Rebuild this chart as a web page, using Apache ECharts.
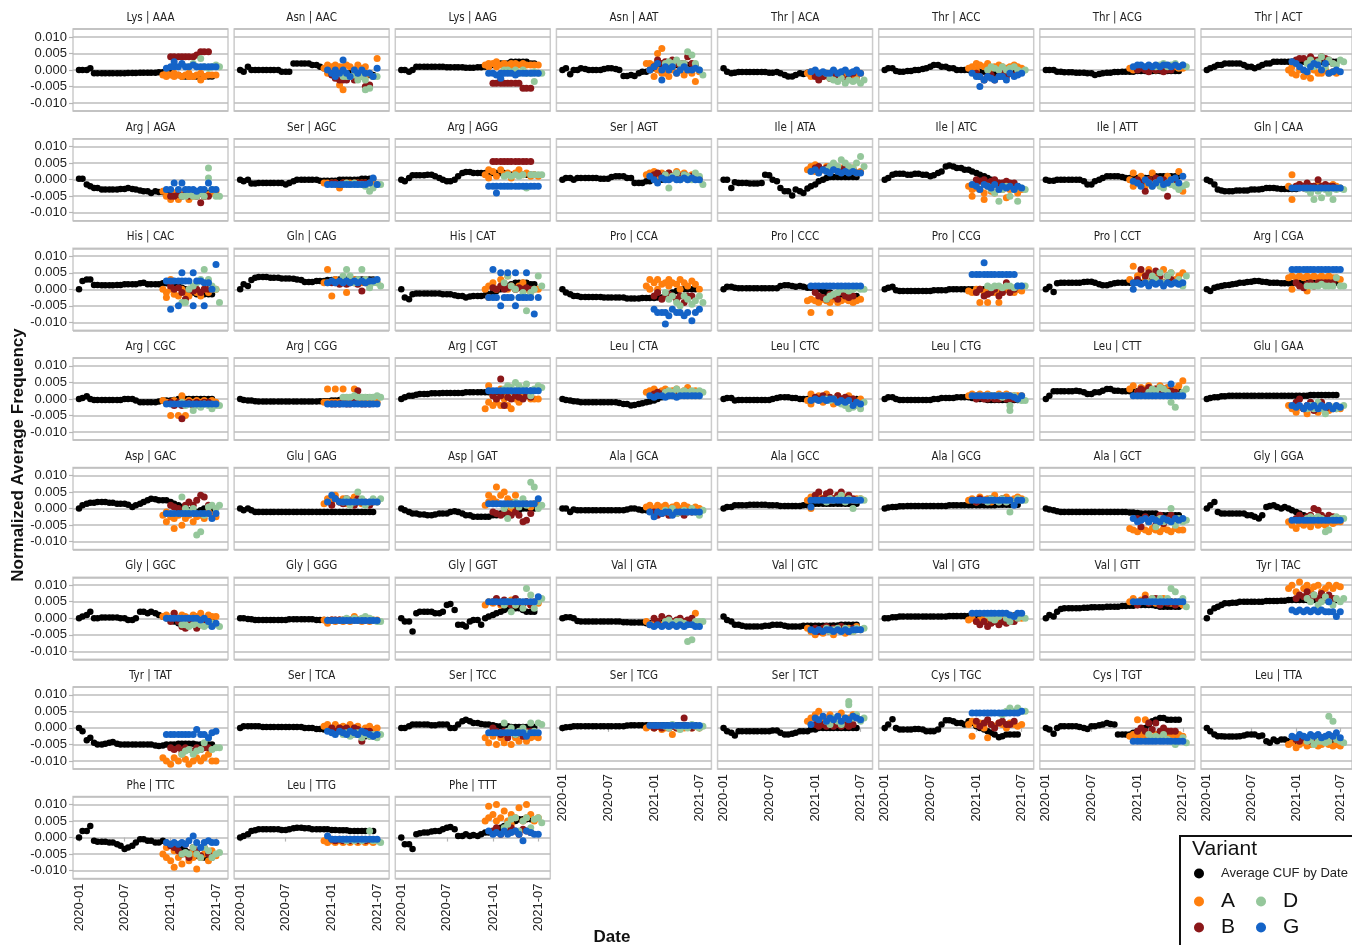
<!DOCTYPE html>
<html><head><meta charset="utf-8">
<script src="https://cdn.jsdelivr.net/npm/echarts@6/dist/echarts.min.js"></script>
<style>html,body{margin:0;padding:0;background:#fff}#chart{width:1352px;height:945px}</style>
</head><body><div id="chart"></div>
<script>
// ---------- DATA (values in thousandths of normalized frequency) ----------
const codons = ['AAA','AAC','AAG','AAT','ACA','ACC','ACG','ACT','AGA','AGC','AGG','AGT','ATA','ATC','ATT','CAA',
'CAC','CAG','CAT','CCA','CCC','CCG','CCT','CGA','CGC','CGG','CGT','CTA','CTC','CTG','CTT','GAA',
'GAC','GAG','GAT','GCA','GCC','GCG','GCT','GGA','GGC','GGG','GGT','GTA','GTC','GTG','GTT','TAC',
'TAT','TCA','TCC','TCG','TCT','TGC','TGT','TTA','TTC','TTG','TTT'];
const aminoAcids = ['Lys','Asn','Lys','Asn','Thr','Thr','Thr','Thr','Arg','Ser','Arg','Ser','Ile','Ile','Ile','Gln',
'His','Gln','His','Pro','Pro','Pro','Pro','Arg','Arg','Arg','Arg','Leu','Leu','Leu','Leu','Glu',
'Asp','Glu','Asp','Ala','Ala','Ala','Ala','Gly','Gly','Gly','Gly','Val','Val','Val','Val','Tyr',
'Tyr','Ser','Ser','Ser','Ser','Cys','Cys','Leu','Phe','Leu','Phe'];
const avgDates = ['2020-01-01','2020-01-15','2020-02-01','2020-02-15','2020-03-01','2020-03-15','2020-04-01','2020-04-15',
'2020-05-01','2020-05-15','2020-06-01','2020-06-15','2020-07-01','2020-07-15','2020-08-01','2020-08-15','2020-09-01','2020-09-15',
'2020-10-01','2020-10-15','2020-11-01','2020-11-15','2020-12-01','2020-12-15','2021-01-01','2021-01-15','2021-02-01','2021-02-15',
'2021-03-01','2021-03-15','2021-04-01','2021-04-15','2021-05-01','2021-05-15','2021-06-01','2021-06-15'];
const variantDates = ['2020-12-01','2020-12-15','2021-01-01','2021-01-15','2021-02-01','2021-02-15','2021-03-01','2021-03-15',
'2021-04-01','2021-04-15','2021-05-01','2021-05-15','2021-06-01','2021-06-15','2021-07-01','2021-07-15'];
// first variantDates index used by each variant's list
const variantStart = {A:0, B:2, D:5, G:1};
const xTickLabels = ['2020-01','2020-07','2021-01','2021-07'];
const yTickLabels = ['-0.010','-0.005','0.000','0.005','0.010'];

const avgCUF = [
[0,0,0,0.5,-1,-1,-1,-1,-1,-1,-1,-1,-1,-0.9,-0.9,-0.9,-0.8,-0.8,-0.8,-0.8,-0.8,-0.7,-0.7,-1,-1,-1.5,-1.5,-2,-2,-2,-2,-2,-2,-2,-2,-2],
[0,-0.5,1,0,0,0,0,0,0,0,0,-0.5,-0.5,-0.5,2,2,2,2,2,1.5,1.5,1,0.5,0,0,-0.5,-0.5,-1,-1,-1,-1.5,-1.5,-1.5,-1.5,-1.5,-1.5],
[0,0,-0.5,0,1,1,1,1,1,1,1,1,0.8,0.8,0.8,0.8,0.8,0.7,0.7,0.7,0.8,0.8,1,1,1.5,1.5,2,2,2,2.5,2.5,2.5,2.5,2.5,2,2],
[0,0.5,-1.3,0,0,0.5,0.3,0,0,0,0,0.3,0.5,0.5,0.3,0,-1.8,-1.8,-1.5,-1.8,-1,-0.5,-0.5,0,0.5,1,1,1,1.5,1.5,1.5,1.5,1.5,1.5,1.5,1.5],
[0.5,-0.5,-1,-0.8,-0.6,-0.6,-0.6,-0.6,-0.6,-0.6,-0.6,-0.6,-0.8,-0.8,-0.6,-1,-1.5,-2,-2,-1.5,-1,-1.2,-0.8,-1,-1,-1,-1,-1.5,-1.5,-2,-2,-2,-2,-2,-2,-2],
[0,0.5,0.5,-0.3,-0.5,-0.5,-0.3,-0.3,0,0,0.3,0.5,1,1.5,1.5,1,1,0.5,0.5,0,0,0,0,0,0,-0.5,-0.5,-0.5,-1,-1,-1,-1,-1,-1,-1,-1],
[0,0,0,-0.5,-0.5,-0.7,-0.7,-0.7,-0.8,-0.8,-0.8,-1,-1,-1.5,-1.2,-1,-0.8,-0.8,-0.6,-0.6,-0.5,-0.5,-0.5,-0.5,-0.3,-0.3,-0.3,-0.3,-0.3,-0.3,-0.3,-0.3,-0.3,-0.3,-0.3,-0.3],
[0,0.5,1,1.5,1.5,2,2,2,2,2,1.5,1,1,0.5,1,1.5,2,2,2.5,2.5,2.5,2.5,2.5,2.5,2.5,2.5,2.5,2.5,2.5,2.5,2.5,2.5,2.5,2.5,2.5,2.5],
[0.3,0.3,-1.5,-2,-2.5,-2.5,-3,-3,-3,-3,-3,-2.8,-2.8,-2.5,-2.8,-3,-3.3,-3.5,-3.5,-4,-3.5,-3.7,-3.7,-3.7,-4,-4,-4,-4,-4,-4,-4,-4,-4,-4,-4,-4],
[0,-0.5,0,-1.2,-1.2,-1,-1,-1,-1,-1,-1,-1,-1.5,-1,-0.5,0,0,0,0,0,0,-0.3,-0.3,-0.3,-0.3,-0.3,0,0,0,0,0,0,0.3,0.3,0.3,0.3],
[0,-0.5,0.5,1.3,1.3,1.3,1.3,1.5,1.5,1,0.5,0,-0.5,-0.5,0,1,2,2.3,2.3,2,2,2,2,2,2,2,2,2,1.5,1.5,1.5,1.5,1.5,1.5,1.5,1.5],
[0,0.5,0.5,0,0.5,0.5,0.5,0.5,0.5,0.5,0.3,0.3,0.3,0.8,1,1,1,0.5,0.5,-1,-1,-1,-0.5,-0.5,0,0,0,0,0.5,0.5,0.5,0.5,0.5,0.5,0.5,0.5],
[0,0,-2.5,-0.8,-1,-1,-1,-1.2,-1.2,-1.2,-1,1.5,1.3,0,-0.5,-2.5,-3.5,-3.5,-4.8,-3,-3.5,-4,-2.7,-2,-1.5,-0.5,0,0.5,0.8,0.8,0.8,0.8,0.8,0.8,0.8,0.8],
[0,0.5,1.5,1.8,1.8,1.8,1.5,1.5,1.8,1.8,1.5,1.5,1,1.3,2,2.5,4,4.3,4,3.5,3.5,3,3,2.5,2,1.5,1,0.5,0,-0.5,-1,-1.5,-2,-2,-2,-2],
[0,-0.3,-0.3,0,0,0,0,0,0,0,-0.5,-1.5,-1.5,-0.5,0,0.5,1,1,1,1,0.8,0.5,0.5,0.5,0.5,0.5,0.5,0.5,0.5,1,1,1,1,1,1,1],
[0,-0.5,-1.5,-3,-3.3,-3.5,-3.5,-3.5,-3.3,-3.3,-3.3,-3.3,-3,-3,-3,-2.8,-2.5,-2.5,-2.5,-2.7,-2.8,-2.8,-2.8,-2.8,-2.8,-2.5,-2.5,-2.5,-2.5,-2.5,-2.5,-2.5,-2.5,-2.5,-2.5,-2.5],
[0,2.5,3,3,1.3,1.3,1.2,1.2,1.2,1.2,1.3,1.3,1.5,1.5,1.5,1.5,1.8,2,1.5,1.5,1.5,1.5,1.8,1.8,1.5,1.5,1,0.5,0,-0.5,-1,-1.5,-1.5,-1.5,-1.5,-1.5],
[0,1.5,1,2.8,3.5,3.7,3.7,3.7,3.5,3.5,3.5,3.3,3.3,3.3,3.2,3,2.8,2.2,2.2,2.2,2.5,2.5,2.5,2.8,2.8,3,3,3,3,3,3,3,3,3,3,3],
[0,-2.5,-3,-1.5,-1.3,-1.3,-1.3,-1.3,-1.3,-1.3,-1.3,-1.5,-1.5,-1.5,-1.8,-2,-2,-2.5,-2.2,-2,-2,-2,-1.8,-1.5,-1,-0.5,0,0.5,1,1.5,2,2,2,2,1.5,1.5],
[0,-1,-1.5,-2,-2,-2.3,-2.3,-2.3,-2.3,-2.3,-2.3,-2.5,-2.5,-2.5,-2.5,-2.5,-2.5,-2.8,-2.8,-2.8,-2.8,-2.6,-2.6,-2.6,-2.6,-2.5,-2.5,-2,-1.5,-1,-0.5,0,0,0,0,0],
[0,0.8,0.8,0.5,0.3,0.3,0.3,0.3,0.3,0.3,0.3,0.3,0.3,0.3,0.3,1,1.2,1.2,1,0.8,1,0.8,0.5,0.5,0,0,-0.5,-1,-1,-1.5,-1.5,-2,-2,-2,-2,-2],
[0,0.5,0.8,-0.3,-0.5,-0.5,-0.5,-0.5,-0.5,-0.5,-0.5,-0.5,-0.5,-0.3,-0.3,-0.3,-0.3,0,0,0,0,0,0,0,0,0,0,0,0,0,0,0,0,0,0,0],
[0,0.8,-0.8,1.8,2,2,2,2,2,2,2.2,2.3,2.3,2,1.5,1.2,1.2,1.5,1.8,2,2,2,2,2,2,2,2,2,2,2,2,2,2,2,2,2],
[0,-0.5,0.5,0.8,1,1.2,1.3,1.5,1.7,2,2,2.2,2.3,2.5,2.5,2.3,2.2,2,2,2,1.8,1.8,1.8,1.8,1.8,2,2,2,2,2,2,2,2,2,2,2],
[0,0.3,0.8,0,-0.3,-0.3,-0.3,-0.3,-0.3,-0.3,-0.3,-0.3,0,0,0,-0.5,-1,-1,-1,-1,-1,-0.8,-0.5,-0.5,-0.5,-0.3,0,0,0,0,0,0,0,0,0,0],
[0,-0.3,-0.5,-0.5,-0.7,-0.8,-0.8,-0.8,-0.8,-0.8,-0.8,-0.8,-0.8,-0.8,-0.8,-0.8,-0.8,-0.8,-0.8,-0.8,-0.8,-0.7,-0.7,-0.7,-0.5,-0.5,-0.3,0,0,0,0.3,0.5,0.5,0.5,0.5,0.5],
[0,0.5,1,1,1.3,1.5,1.5,1.5,1.7,1.7,1.7,1.8,1.8,1.8,1.8,1.8,1.8,2,2,2,2,2,2,2,2,2.2,2.2,2.2,2.3,2.3,2.3,2.5,2.5,2.5,2.5,2.5],
[0,-0.3,-0.5,-0.7,-0.8,-1,-1,-1,-1,-1,-1,-1,-1,-1,-1,-1.2,-1.5,-1.5,-2,-1.8,-1.5,-1.3,-1,-0.8,-0.5,0,0.5,1,1.5,1.5,1.5,1.5,1.5,1.5,1.5,1.5],
[0,0.3,0.3,-0.5,-0.3,-0.3,-0.3,-0.3,-0.3,-0.3,-0.3,-0.3,-0.3,0,0.3,0.5,0.5,0.5,0.3,0.3,0,0,0,0,0,0,0,0,0,0,0,0,0,0,0,0],
[0,0.5,0.5,0,-0.3,-0.3,-0.3,-0.3,-0.3,-0.3,-0.3,-0.3,-0.3,0,0,0.3,0.3,0.3,0.3,0.5,0.5,0.5,0.5,0.3,0,0,0,-0.3,-0.3,-0.3,-0.3,-0.3,-0.3,-0.3,-0.3,-0.3],
[0,1,2.3,2.3,2.3,2.3,2.3,2.3,2.5,2.3,2,1.5,1.5,2,2,2.5,3,3,2.5,2.5,2.3,2.3,2.3,2.3,2.3,2.3,2.3,2.3,2.3,2.3,2.3,2.3,2.3,2.3,2.3,2.3],
[0,0.3,0.5,0.5,0.8,0.8,1,1,1,1,1,1,1,1,1,1,1,1,1,1,1,1,1,1,1,1,1,1,1.2,1.2,1.2,1.2,1.2,1.2,1.2,1.2],
[0,1,1.5,1.8,1.8,2,2,2,1.8,1.8,1.5,1.5,1.5,1.2,0.5,1,1.5,2,2.5,3,2.8,2.5,2.5,2.5,2,1.5,1,0.5,0,-0.5,-1,-1,-0.5,0,0,0],
[0,-0.5,0,-0.5,-1,-1,-1,-1,-1,-1,-1,-1,-1,-1,-1,-1,-1,-1,-1,-1,-1,-1,-1,-1,-1,-1,-1,-1,-1,-1,-1,-1,-1,-1,-1,-1],
[0,-0.5,-1,-1.5,-1.5,-1.8,-1.8,-2,-2,-1.8,-1.5,-1.5,-1.5,-1,-0.8,-1,-1.5,-2,-2,-2.5,-2.5,-2.5,-2.5,-2.5,-2,-2,-1.5,-1.5,-1,-1,-0.5,-0.5,0,0,0,0],
[0,0,-1,-0.3,-0.5,-0.5,-0.5,-0.5,-0.5,-0.5,-0.5,-0.5,-0.5,-0.5,-0.5,-0.5,-0.5,-0.3,0,0,-0.3,-0.5,-0.5,-0.5,-0.5,-0.5,-0.8,-0.8,-0.8,-1,-1,-1,-1,-1,-1,-1],
[0,0.5,0.5,1,1,1,1,1.2,1.2,1.2,1.2,1.2,1,1,1,0.8,0.8,0.8,0.8,0.8,0.8,1,1,1.2,1.5,1.5,1.5,1.5,1.5,1.5,1.5,1.5,1.5,1.5,1.5,1.5],
[0,0.3,0.5,0.5,0.7,0.7,0.8,0.8,0.8,0.8,0.8,0.8,0.8,0.8,0.8,0.8,0.8,1,1,1,1,1,1,1,1,1,1,1,1,1,1.2,1.2,1.2,1.2,1.2,1.2],
[0,-0.3,-0.5,-0.8,-1,-1,-1,-1,-1,-1,-1,-1,-1,-1,-1,-1,-1,-1,-1,-1,-1,-1,-1.2,-1.2,-1.3,-1.5,-1.5,-1.5,-1.5,-1.5,-2,-2,-2,-2,-2,-2],
[0,1,2,-1,-1.5,-1.5,-1.5,-1.5,-1.5,-1.5,-1.5,-2,-2,-2.5,-3,-2,0.5,0.8,1,0.5,0,0.5,0,-0.5,-1,-1.5,-2,-2.5,-2.5,-3,-3,-3,-3,-3,-3,-3],
[0,0.5,1,2,0,0,0.2,0.2,0.2,0.2,0.2,0,0,-0.5,-0.5,0,2,2,1.5,2,1.5,1,0.5,0,-0.5,-1,-1.5,-2,-2,-2,-1.5,-1.5,-1,-1,-1,-1],
[0,0,-0.2,-0.3,-0.5,-0.5,-0.5,-0.5,-0.5,-0.5,-0.5,-0.5,-0.5,-0.3,-0.3,-0.3,-0.3,-0.3,-0.3,-0.3,-0.5,-0.5,-0.5,-0.5,-0.5,-0.5,-0.5,-0.5,-0.5,-0.5,-0.5,-0.5,-0.5,-0.5,-0.5,-0.5],
[0,-1,-1,-4,1.5,2,2,2,2,1.5,1.5,2,4,4.3,2.5,-2,-2,-2.5,-1,-0.5,-0.5,-2,0,0.5,1,1.5,2,2.5,3,3,3,3,2.5,2,2,2],
[0,0.3,0.3,0,-0.8,-1,-1,-1,-1,-1,-1,-1,-1,-1,-1,-1,-1.2,-1.2,-1.3,-1.3,-1.3,-1.3,-1.5,-1.5,-1.5,-1.5,-1.5,-1.5,-1.5,-1.5,-1.5,-1.5,-1.5,-1.5,-1.5,-1.5],
[0.5,-0.5,-1,-2,-2,-2.3,-2.5,-2.5,-2.5,-2.5,-2.5,-2.3,-2.3,-2,-2,-2,-2.3,-2.5,-2.5,-2.5,-2.5,-2.3,-2.3,-2.3,-2.3,-2.3,-2.3,-2.3,-2.3,-2.2,-2.2,-2,-2,-2,-2,-2],
[0,0,0.3,0.3,0.5,0.5,0.5,0.5,0.5,0.5,0.5,0.5,0.5,0.5,0.5,0.5,0.5,0.7,0.7,0.7,0.7,0.7,0.7,0.7,0.8,0.8,0.8,0.8,0.8,0.8,0.8,0.8,0.8,0.8,0.8,0.8],
[0,1,0.5,2,2.8,3,3,3,3,3,3.2,3.2,3.3,3.3,3.3,3.3,3.5,3.5,3.5,3.5,3.7,3.7,3.8,3.8,4,4,4,4,4,3.8,3.5,3.5,3.5,3.5,3.5,3.5],
[0,2,3,3.5,4,4.5,4.5,4.7,4.7,5,5,5,5,5,5,5,5.2,5.2,5.2,5.2,5.3,5.3,5.5,5.5,5.5,5.5,5.5,5.5,5.5,5.5,5.5,5.5,5.5,5.5,5.5,5.5],
[0,-1,-3.7,-3,-4.5,-5,-5,-4.8,-4.5,-4.3,-4.8,-5,-5,-5,-5,-5,-5,-5,-5,-5,-5.3,-5.5,-5.3,-5,-5,-5,-4.8,-4.8,-4.8,-4.8,-4.8,-5,-5,-5,-5,-5],
[0,0.5,0.5,0.5,0.5,0.5,0.3,0.3,0.3,0.3,0.3,0.3,0.3,0.3,0.3,0.3,0.3,0,0,0,-0.3,-0.3,-0.5,-0.5,-0.5,-1,-1,-1,-1.5,-1.5,-2,-2,-2,-2.5,-2.5,-2.5],
[0,0,0.5,1,1,1,1,1,0.8,0.8,1,1,1,0,0,1,2,2.5,2,1.5,1.5,1.2,1,1,0.8,0.5,0.5,0.5,0.5,0.3,0.3,0.3,0.3,0.3,0.3,0.3],
[0,0.2,0.3,0.5,0.5,0.5,0.5,0.5,0.5,0.5,0.5,0.5,0.5,0.5,0.5,0.5,0.5,0.7,0.8,0.8,0.8,0.8,0.8,0.8,0.8,0.8,0.8,0.8,0.8,0.8,0.8,0.8,0.8,0.8,0.8,0.8],
[0,-1,-1.5,-2.3,-1,-1,-1,-1,-1,-1,-1,-1,-1,-0.8,-0.8,-1.5,-2,-2,-1.8,-1.5,-1,-1,-1,-0.5,-0.5,0,0,0,0,0,0,0,0,0,0,0],
[0,1,2.6,0,-0.5,-0.5,-0.5,-0.5,-0.3,-0.3,-0.5,-1,-1,-1,-0.5,1,2.3,2.3,2,1.5,1.5,1,2,1.5,0.5,0,-0.5,-1,-1.5,-2,-2.8,-2.5,-2,-2,-2,-2],
[0,-0.5,-1.8,0,0.5,0.5,0.5,0.5,0.5,0.3,0,-0.3,0.5,0.5,0.8,1,1.5,1.2,1,-2,-2,-2,-2,-1.5,-1,-0.5,0,1,2,2.5,3,3,2.5,2.5,2.5,2.5],
[0,-1,-2,-2.5,-2.5,-2.6,-2.6,-2.6,-2.6,-2.5,-2.3,-2,-2,-2,-2.5,-2.3,-4,-4.5,-3.5,-4,-3.5,-3.5,-4,-4,-4,-4,-4,-4,-4,-4,-4,-4,-4,-4,-4,-4],
[0,2,2,3.5,-1,-1.3,-1.3,-1.3,-1.5,-1.5,-2,-2.5,-3.5,-3,-2.5,-1.5,-0.5,-0.5,-1,-1,-1.5,-1.5,-1,-1.5,-2,-2.5,-3,-3.5,-4,-4.5,-5,-5.5,-6,-6,-6,-6],
[0,0.5,1,2,2.2,2.5,2.5,2.5,2.5,2.5,2.5,2.3,2.3,2.5,2.8,3,3,2.8,2.8,2.5,2.5,2.5,2.5,2.5,2.3,2.3,2.2,2.2,2.2,2,2,2,2,2,2,2],
[0,-2,-2,-3.5,1,1.3,1.5,1.5,1.8,2,2,2.5,3,3.2,2.5,0.5,0.5,1,0.5,0.8,0.5,1,1.5,1.5,2,2.5,3,3.5,4,4.5,5,5.5,5.5,5.5,5.5,5.5]
];

const variantA = [
[-1.5,[-1,-2],-1.5,[-1,-2],-1.5,-2,-1.5,[-1,-2],-2,-1.5,[-1,-3],-2,-1.5,-1.5,-1.5],
[0.5,[1.5,-1],1,[1.5,-1],[1,-4.5],[-6,1],[1.5,-2],1,[0,-1.5],1.5,0.5,[1,-2],-1,-2,3.5],
[1.5,[1,2],2,[1,2.5],1.5,2,1.5,[1,2],2,1.5,2,1.5,1.5,1.5,1.5],
[2,[0,2],[-2,1.5],[5,0],[6.5,-1],[2,-1],[1,-2],0,[2,-1],0,[1,-1.5],0,-1,-3.5,-0.5],
[-1,[-0.5,-2],-1.5,-1,-2,-1,-2.5,-1,-1.5,-1,-2,-1,-1.5,-2,-1],
[0.5,1,[0,2],1.5,1,2,0.5,1,1.5,1,0.5,1,1.5,1,0.5],
[0.5,0,0.5,1,0.5,1,0.5,0,1,0.5,1,0.5,1,0.5,0.5],
[0,[-1,1],-1.5,0,-2,-1,-2.5,0,-1,-1,0,-1,-0.5,-1],
[-3.5,-5,-6,-4,-6,-4,-3.5,-6,-5,-4,-3.5,-5,-4.5,-4,-3.5],
[-1,-1,-1,-1,-2.5,-1,-1,-1,-1,-1,-1,-1,-1,-1,-1.5],
[1.5,[3,0.5],2.5,1,3,1.5,2,0.5,2,3,1.5,2,1,1.5,1],
[1.5,2,2.5,1,2,1.5,2,1,2.5,1.5,2,1,1.5,1,0.5],
[3,4,[2.5,4.5],3.5,3,4,3,4.5,3,3.5,2.5,3,3.5,2,2.5],
[-2,[-3,-5],-2.5,-3,[-4,-6],-2,-3.5,-4,-2.5,-3,-5.5,-3,-2.5,-4,-3],
[0,[2,-2],-1,1,-2,0,2,-1,0,-1.5,1,0,-1,2.5,-3.5],
[-2,[1.5,-6],-2,-1.5,-2.5,-2,-3,-2,-1.5,-2,-2.5,-2,-1.5,-2,-2.5],
[0,[-1,-2.5],[3,0],-1.5,-2,0,-1,-2,0,-1,-2,0,-1,0,0],
[2,[6,2],-2,3,2,3,-1,2,3,2.5,2,3,2,2.5,2],
[0,[1,-2.5],2,0,3,1,[4,0],1,0,1,2,0,-1,0,0],
[1,[3,0],2,[3,0],1.5,2,[3,1],2,1.5,[3,0],2,1,2.5,1.5,0],
[-3.5,[-7,-3],-3.5,-4,-3,-3.5,[-7,-4],-3,-4,-3.5,-3,-3.5,-4,-3.5,-3],
[-0.5,-1,0,[-4,0],-1,[-4,0],-0.5,-1,[-4,0],-1,0,-0.5,-1,0,-0.5],
[3,[7,2],4,5,3,6,4,5,3,6,4,5,3,4,5],
[3.5,[4,0],3.5,4,3.5,[4,-0.5],3.5,4,3.5,4,3.5,4,3.5,3.5,3],
[-0.5,-1,[-5,-1],-0.5,[-5,-1],[1,-0.5],[-5,-1],-0.5,-1,-0.5,-1,-0.5,-1,-0.5,-1],
[-1,[3,-1],-1,[3,-1],-1,[3,-1],-1,-1,[3,-1],-1,-1,-1,-1,-1,-1],
[-3,[4,-1],[1,-2],-1,[3,-2],0,[1,-2],-3,0,-1,0.5,1,0,0,0],
[2,2.5,3,2,2.5,3,2,2.5,3,2,2.5,3.5,2,2.5,2],
[-0.5,[1.5,-1.5],0,1,-1,1.5,0,-1.5,1,0,-1,1,0,-1,0],
[1,1.5,1,1.5,1,1.5,1,1,1.5,1,1.5,1,1,1,1],
[3,4,2,3.5,3,4,2.5,3,4,3,3.5,2,3,4,5.5],
[-2,-3,-4,-2.5,-3,-4.5,-2,-3,-4,-2.5,-3,-3.5,-2.5,-3,-3],
[-2,[-4,-1],-2.5,[-6,-3],-2,[-5,-1],-3,-2,[-4,-1],-2.5,-2,-3,-1,-2,-2.5],
[1.5,3,2,4,2,3,1.5,2.5,3.5,2,1.5,2,1.5,2,2],
[1,[4,2],3,[6.5,2],4,[5,1],3,[2,0],4,1,2,1.5,0.5,1.5,1],
[0.5,1,0,1,0.5,1,0,0.5,1,0,1,0.5,0,0.5,0],
[2.5,[3.5,0],3,4,3,3.5,2.5,3,4,3,3.5,3,2.5,3,3],
[2.5,3,2,3.5,2.5,3,2,4,2.5,3,3.5,2.5,3,3.5,3],
[-6,-6.5,-7,-6,-6.5,-7,-6,-6.5,-7,-6,-6.5,-7,-6,-6.5,-6.5],
[-4,-5,-6,-4.5,-5,-4,-5.5,-4,-5,-4.5,-5,-4,-4.5,-4,-4],
[0.5,1,0,1.5,0,1,0.5,0,1,0.5,1.5,0,1,0.5,0.5],
[-0.5,-1.5,-0.5,-1,-0.5,-1,-0.5,-1,0.5,-0.5,-1,-0.5,-1,-0.5,-0.5],
[4,5,4.5,5.5,4,5,4.5,5.5,4,5,4.5,5,4,5,4.5],
[-1,-2,-1.5,-1,-2,-1.5,-1,-2,-1.5,-1,-2,-1.5,-1,1.5,-1.5],
[-3,-4,-5,-3.5,-4.5,-3,-4,-5,-3.5,-4,-4.5,-3,-4,-2.5,-3.5],
[-0.5,0,-1,-0.5,0,-1,-0.5,0,-1,-0.5,0,-1,-0.5,0,0],
[5,6,4.5,5.5,7,5,6,4.5,5.5,6,5,4.5,5,4.5,4],
[9,10,8,11,9,10,8.5,9.5,10,8,9,10,9,10,9.5],
[-9,-10,-11,-9,-10,-8,-9.5,-11,-10,-9,-10,-9,-8,-10,-10],
[0.5,1,-0.5,1,0,0.5,-0.5,1,0,0.5,-1,0,0.5,-0.5,0],
[-3,-4.5,-2.5,-5,-3,-4.5,-2.5,-5,-3,-4,-2.5,-4,-3,-2.5,-3],
[0,0.5,0,0.5,-0.5,0,0.5,-2,0,0.5,0,0.5,0,0.5,0],
[2,3,4,5,2,3,4,1.5,3,4.5,2,3,4,3,2.5],
[1,[2,-2.5],1,1.5,0,[2,-3],1,0.5,1.5,1,0,1.5,1,0.5,1],
[-2.5,-2,[2.5,-3],-2,[2.5,-2.5],-2,-3,-2,-2.5,-2,-3,-2,-2.5,-2,-2.5],
[-5,-4.5,-6,-5,-4.5,-5.5,-5,-4,-5.5,-5,-4.5,-5,-5.5,-5,-5.5],
[-5,[-6,-3],-7,[-9,-4],-6,[-8,-5],-5,-7,[-4,-6],-9.5,-6,-5,-7,-4,-5.5],
[-1,-1.5,-1,-1.5,-1,-1.5,-1,-1.5,-1,-1.5,-1,-1.5,-1,-1.5,-1],
[5,[9.5,6],7,[10,5],6,8,5,[7,4],6,9,5,[10,6],7,5,6]
];

const variantB = [
[4,4,4,4,4,4,4,4.5,5.5,5.5,5.5],
[-1.5,-2.5,-3,-3,-3,-2,-3,-2.5,-2,-5,-4.5],
[-4,-4,[-3,-4],-4,-4,-4,-4,-4,-5.5,-5.5,-5.5],
[1,3,2,2.5,2,3,2,2,2,4,2],
[-2,-3,-2,-1.5,-2.5,-2,-1.5,-2,-3,-2.5,-1],
[-1,-2,-3,-2,-1.5,-3,-2,-1,-2,-1,-1.5],
[0,0.5,0,-0.5,0.5,0,0,-0.5,0,0],
[3,3.5,3.5,2.5,4,3,3,4,3.5,3,2],
[-5,-5,-4.5,-5,-4.5,-5,-4,-5,-7,-5,-5],
[-1,-1,-1.5,-1,-1,-1.5,-1,-1,-1,-1],
[5.5,5.5,5.5,5.5,5.5,5.5,5.5,5.5,5.5,5.5,5.5],
[1.5,2,1,1.5,2,1,1.5,1,1.5,1,1],
[3.5,4,3,3.5,4,3,3.5,3,4,3.5,3],
[0,-0.5,0,-1,-0.5,0,-1,-1,-0.5,-1,-1],
[0,-1,-3.5,0,-1,0.5,-1,0,-5,-1,-0.5],
[-2,-1.5,-2,-1,-2,-2,0,-2,-1.5,-2,-2],
[1,0,0.5,-1,-3,0,-0.5,0,-1,0,0],
[2,2,1.5,2,1.5,2,2,1.5,-0.5,2,1.5],
[0.5,0,1,0,0.5,1,0,0.5,0,0.5,0],
[-2,-1,-3,-2,-1.5,-2,-3,-2,-4,-2,-2],
[-1,-2,-2.5,-3,-1.5,-2,-3,-1,-2,-2.5,-2],
[-1,0,-2,-1.5,-1,0,-2,-1,2,-1,0],
[3,6,4,5,3,5.5,4,2,4,3,2],
[2,1,0.5,1.5,2,1,2,2,2,2,2],
[-1,-2,-1,[-6,-2],-1.5,-1,-2,-1,-1.5,-1,-1],
[-1.5,-1.5,-1.5,-1,-1.5,-1.5,-1,2.5,-1.5,-1.5,-1.5],
[1,0,[6,1],-2,0.5,0,1,0.5,0,1,0.5],
[1.5,2,1.5,2,1.5,1.5,2,1.5,1.5,2,1.5],
[0.5,0,1,0,0.5,0,1,0,0.5,0,0],
[0,0.5,0,0,0.5,0,0,0.5,0,0,0],
[2,3,2.5,3.5,2,3,2,3,2,2.5,2],
[-1,0,-3,-2,-1,-3.5,-2,-1,-3,-2,-3],
[1,0.5,0,-1,1,2,1,2.5,4,3.5,1],
[1,3,2,1.5,3,2,1,3,2,1.5,1],
[-1,-1.5,-2,-1,-1.5,-2,-1,-2,-4,-3.5,-1.5],
[-1,-2,-1.5,-1,-2,-1,-1.5,-1,-2,-1,-1],
[4,5,3,4.5,5,3,4,5,3,4,3],
[2,3,2.5,2,3,2.5,2,3,2,2.5,2],
[-3,-5.5,-2.5,-4,-3,-5,-2,-4.5,-3,-2,-3],
[-3,-2,-3,-2.5,-2,0,-0.5,-2,-3,-2,-2.5],
[-1,1.5,-1,-2.5,-3,-2,-1.5,-3,-2,-1,-1],
[-0.5,-0.5,-0.5,-0.5,-0.5,-0.5,-0.5,-0.5,-0.5,-0.5,-0.5],
[5,6,4.5,5.5,5,4,6,5,4.5,5,4],
[0,-1,0.5,-0.5,0,-1,-0.5,0,-1,-0.5,0],
[-3,-4,-3,-2.5,-4,-3,-3.5,-2.5,-3,-4,-3],
[-1,-2,-1,-2.5,-1.5,-1,-2,-1,-1.5,-1,-1],
[4,5,6,4.5,5,6,4,5,4.5,5,4],
[6,7,6.5,8,6,7,6,7.5,6,7,6],
[-6,-6.5,-6,-7,-6,-6.5,-7,-6,-6.5,-6,-6],
[0,-1,0,-0.5,0,-1,0,-0.5,-4,-1,-1],
[0,-1,-2,-1,-3,-1,-2,-1,-2.5,-1,-1],
[0,0.5,0,0.5,0,0.5,0,0.5,3,0.5,0],
[1,0.5,1,0.5,1,0.5,1,0.5,1,0.5,1],
[2,0.5,1.5,2.5,1,0,1.5,2,1,1,2],
[-1,0,-1,1.5,-0.5,1.5,-1,0,-1,-1,-1],
[-3.5,-4,-3,-3.5,-4,-3,-3.5,-3,-4,-3.5,-3],
[-2.5,-3,-4,-5,-2,-6,-3,-4,-5.5,-3,-5],
[-0.5,-1,-0.5,-1,-0.5,-1,-0.5,-1,-0.5,-1,-0.5],
[2,3,1,2.5,1.5,3,2,1,2.5,2,1.5]
];

const variantD = [
[null,null,1,2,1,3.5,1,0.5,1,1.5,1],
[-2,-2,-2,-1.5,-3,-2,[-6,-3],-5.5,-2,-2],
[0,0,-0.5,0,-1,0,-1,-1,[-0.5,-3.5],-1,-1],
[2,2.5,2,3,2,2,5.5,4.5,2,0,-1.5],
[-1,-2.5,-3,-3.5,-2.5,-4,-3,-3.5,-3,-4,-3],
[0,1,0.5,0,1,0,0.5,1,0,-0.5,0],
[null,null,1,1.5,2,1,1.5,2,1,1.5,1],
[2,3,1,2.5,4,1,3,2,1.5,3,2.5],
[-5,-5,-4.5,-5,-5,-4,-5,[3.5,0.5],-3,-5,-5],
[null,-1,-1.5,-1,-1.5,-1.5,-2,-3.5,-2.5,-1.5,-1.5],
[1,1.5,1,1.5,1,1.5,-2.5,1.5,1.5,1.5,1.5],
[1.5,-2.5,1,2,0,1.5,1,0,2,1,-1.5],
[3,4,5,4,6,5,4,3.5,5,7,4],
[-2,-3,-4,-6.5,-3,-2,-5,-3,-6.5,-2.5,-3],
[-1,-2,-1,-2,-2.5,-1,-1.5,-2,-3,-2,-1.5],
[-3,-4,-6,-3.5,-5.5,-3,-4,-6,-3,-2.5,-3],
[-4,-4,0,1,2,3,6,3,1,0,-4],
[4,6,4,2,3,6,3,0.5,2,2,1],
[2,4,1,0,-2.5,-1,-6.5,-1,0,4,1],
[-1,-3,-2,-4,-5,-2,-3,-4.5,-3.5,-2,-4],
[-3,-2,-1.5,-1,0,0,-0.5,0,0.5,0,0],
[1,0.5,1,1,0.5,1,1,0.5,1,1,1],
[2,4,3,5,2,4,5,2,3,1,4],
[1,1,1,1,1.5,1,1,1,3.5,1,1],
[-1,-2,-1.5,-3.5,-2,-2.5,-1.5,-2,-3,-2,-2],
[0.5,0.5,0.5,1,0.5,0.5,0.5,0.5,0.5,1,0.5],
[3,4,3.5,5,4,3,4.5,1,3,4,3.5],
[2,2.5,2,3,2,2.5,2,2.5,2,2.5,2],
[0,-0.5,0,-1,-1.5,-2,-3,-2.5,-2,-3,-1],
[1,1,1,1,0.5,1,[-3.5,-2],1,0,-0.5,-0.5],
[2,3,2.5,3.5,3,2,-1,-2.5,1,2,3],
[-3,-2,-3,-1,-3,-4.5,-2,-2.5,-3,-2.5,-2],
[3.5,0,-1,0,-8,-7,-2,0.5,1,0,1],
[2,3,1,2,5,3,1,2,3,2,3],
[0,-3,1,2,0.5,3,1,8,6.5,0,1],
[-0.5,-1,0,-1.5,-1,-0.5,-1,0,-1,-2,-0.5],
[2,3,2.5,3,4,2,3,0,2.5,3,2.5],
[2,3,2.5,2,3,2,[2.5,-1],2,3,2.5,2.5],
[-4,-3,-5.5,-3,-4,-3.5,0,-5,-3,-4,-3.5],
[-3,-2.5,-3,-2.5,-3,-7,-6.5,-3,-2.5,-3,-3],
[-2,-2,-2.5,-2,-1.5,-2,-2.5,-2,-1.5,-2,-2.5],
[-0.5,0,-0.5,0,-0.5,0,0.5,0,-0.5,-1,-1],
[4,5,2,4,5,3,9,7,3,5,6],
[-1,-0.5,-1.5,-1,-1,-1.5,-7,-6.5,-1,-1,-1],
[-3,-4,-3.5,-3,-4,-3,-3.5,-4,-3,-3.5,-3],
[1,0,-0.5,0.5,1.5,0,-1,0.5,0,0.5,0],
[5,6,5,6,5,6,9,8,5,6,3.5],
[6,5,7,4,5,6.5,5,4,6,5,6],
[-8,-7,-6.5,-8,-7,-6.5,-4.5,-3,-6.5,-6,-6],
[-2,-1.5,-2.5,-2,-1.5,-3,-2,-2.5,-2,-3,-2],
[1.5,-1,0,-2,-1,0,-1.5,1.5,-1,1.5,1],
[0.5,0,1,0.5,-0.5,0.5,0,1,0.5,0,0.5],
[2,1,3,2,1,3,[8,7],3,4,2,3],
[null,null,null,null,4,5,6,5,6,5,5],
[-2,-3,-2.5,-3,-2,-3.5,-4,-5,-4,-3,-4.5],
[-4,-3.5,-5,-4,-4,-4.5,[3.5,-4],2,-3.5,-4,-4.5],
[-5,-4.5,-5,-3,-5,-6,-3,-4,-6,-5,-4.5],
[-0.5,-1,-0.5,-1,-0.5,-1,-0.5,2,-1,-1,-1.5],
[3,4,5.5,6,2,5,6,3,5.5,6,4.5]
];

const variantG = [
[0.5,1,[1,2.5],1,2,1,1,1.5,1,1,1,1,1,1],
[0,-1,[-2,0],-1,[0,3],-1,-2,0,-1,0,-1,-1,-2,0.5],
[-1,-1,-1.5,[-1,-2.5],-1,-1,-1,-1.5,-1,-1,-1,-1,-1,-1],
[0,1,2,[0,-3],1,0,1,-1,0,1,0,0,0.5,0],
[-0.5,0,-1,-0.5,-1,-1,0,-1,-0.5,0,-1,-0.5,0,-1],
[-1,-2,[-2,-5],-3,-2,-2.5,-3,-2,-2,-3,-1,-2,-1.5,-1],
[1,1.5,1.5,1,1.5,1,1.5,1,1.5,1.5,1,1.5,1,1.5],
[2.5,2,1,0,-0.5,1,2,1.5,0,2,-1,-0.5,0,-0.5],
[-3,-3,-1,-3,-1,-3,-3,-3,-3.5,-3,-3,-1,-3,-3],
[-1.5,-1.5,-1.5,-1.5,-1.5,-1.5,-1.5,-1.5,-1.5,-1.5,-1.5,-1,0.5,-1.5],
[-2,-2,[-2,-4],-2,-2,-2,-2,-2,-2,-2,-2,-2,-2,-2],
[1,0,-1,0.5,0,0,0.5,0,0,0.5,0,0.5,0,0],
[2.5,3,2,3,2.5,2,3,2.5,2,2.5,2,2.5,2,2],
[-1.5,-2,-3,-1.5,-2,-2.5,-1.5,-3,-2,-2.5,-2,-3,-2,-2.5],
[-0.5,-1,-2,0,-1,-2,-1,0,-1.5,-1,0,0.5,-1,1],
[-2.5,-2.5,-2.5,-2.5,-2.5,-2.5,-2.5,-2.5,-2.5,-2.5,-2.5,-2.5,-2.5,-2.5],
[2.5,[-6,2.5],2.5,[-5,2.5],[5,2.5],2.5,2.5,[-5,5],2.5,2.5,[-5,2],2,0,7.5],
[2,2.5,2,2.5,2,2.5,2,2.5,2,2.5,2,2.5,2.5,3],
[-2.5,[6,-2.5],-2.5,[5,-5],-2.5,[5,-2.5],-2.5,[5,-5],-2.5,-2.5,[5,-2.5],-2.5,-7.5,-2.5],
[null,-6,-7,-7,[-10.5,-7],-8,-6,-7,-7,-8,-7,-9.5,-7,-6],
[1,1,1,1,1,1,1,1,1,1,1,1,1,1],
[4.5,4.5,4.5,[8,4.5],4.5,4.5,4.5,4.5,4.5,4.5,4.5,4.5,1,1],
[[0,2],2,1.5,2,1,2,1.5,2,1,2,1.5,2,1.5,2],
[6,6,6,6,6,6,6,6,6,6,6,6,6,6],
[-1.5,-1.5,-1.5,-1.5,-1.5,-1.5,-1.5,-1.5,-1.5,-1.5,-1.5,-1.5,-1.5,-1.5],
[-1.5,-1.5,-1.5,-1.5,-1.5,-1.5,-1.5,-1.5,-1.5,-1.5,-1.5,-1.5,-1.5,-1.5],
[2.5,2.5,2.5,2.5,2.5,2.5,2.5,2.5,2.5,2.5,2.5,2.5,2.5,2.5],
[1,0.5,1,1,0.5,1,1,0.5,1,1,1,1,1,1],
[-0.5,0,-0.5,0,-0.5,0,0,-1,-0.5,-1,-0.5,-2,-1,-1.5],
[1,1,1,1,1,1,1,1,1,1,1,0.5,0,1],
[1,1,1,1,1,1,1,1,1,1,[4.5,1],1,1,1],
[-2,-2.5,-2,-3,-2,-2.5,-2,-3,-2,-2.5,-2,-3,-2,-2.5],
[-1.5,-1.5,-1.5,-1.5,-1.5,-1.5,-1.5,-1.5,-1.5,-1.5,-1.5,-1.5,-3,-1.5],
[2,4,3,2,2,2,2,2,2,2,2,2,2,2],
[1.5,1.5,1.5,1.5,1.5,1.5,1.5,1.5,1.5,1.5,1.5,1.5,1.5,3],
[-1,-2.5,-1,-1.5,-1,-1,-2,-1,-1,-1,-1,-1,-1,-1],
[[0.5,2.5],2.5,2.5,2.5,2.5,2.5,2.5,2.5,2.5,2.5,2.5,2.5,2.5,2.5],
[2.5,2.5,2.5,2.5,2.5,2.5,2.5,2.5,2.5,2.5,2.5,1,2.5,2.5],
[-3,-4,-3.5,-3,-4,-3,-3.5,-4,-3,-3.5,-4,-3,-3.5,-3],
[-3.5,-3.5,-3.5,-3.5,-3.5,-3.5,-3.5,-3.5,-3.5,-3.5,-3.5,-3.5,-3.5,-3.5],
[0,0,0,0,0,0,0,0,0,-0.5,0,-1,-2.5,-1.5],
[-0.7,-0.7,-0.7,-0.7,-0.7,-0.7,-0.7,-0.7,-0.7,-0.7,-0.7,-0.7,-0.7,-0.7],
[5,5,5,5,5,5,5,5,5,5,5,5,5,6.5],
[-2,-2.5,-2,-2.5,-2,-2.5,-2,-2.5,-2,-2.5,-2,-2,-2.5,-2.5],
[-3.5,-4,-3.5,-4,-3.5,-3.5,-4,-3.5,-4,-3.5,-4,-3.5,-3.5,-3.5],
[1.5,1.5,1.5,1.5,1.5,1.5,1.5,1.5,1.5,1.5,1,0.5,1.5,1.5],
[5,5,5,5,5,5,5,5,5,5,5,5,5,5],
[2.5,2,2.5,2,2.5,2,2.5,2,2.5,2,[5,2],2,0.5,2],
[-2,-2,-2,-2,-2,-2,-2,-2,-0.5,-2,-2,-3,-1.5,-1],
[-1,-1.5,-2,-1,-1.5,-2,-1,-1.5,-2,-1,-1.5,-2,-2.5,-2],
[-1.5,-1.5,-1.5,-1.5,-1.5,-1.5,-1.5,-1.5,-1.5,-1.5,-2.5,-1.5,-1.5,-1.5],
[0.7,0.7,0.7,0.7,0.7,0.7,0.7,0.7,0.7,0.7,0.7,0.7,0.7,0.7],
[1,3,2.5,3.5,2,3,2.5,3.5,2,3,2.5,3.5,3,2.5],
[4.5,4.5,4.5,4.5,4.5,4.5,4.5,4.5,4.5,4.5,4.5,4.5,4.5,5],
[-4,-4,-4,-4,-4,-4,-4,-4,-4,-4,-4,-4,-4,-4],
[-2.5,-3,-2,-2.5,-3,-2,-2.5,-2,-3,-2.5,-2,-2.5,-1.5,-3],
[-1.5,-2,-1.5,-2,-1.5,-2,-1,0.5,-1.5,-3,-1.5,-1,-1.5,-1.5],
[0.5,-0.5,-0.5,-0.5,-0.5,-0.5,-0.5,-0.5,-0.5,-0.5,-0.5,-0.5,-0.5,-0.5],
[2,1,1.5,1,2,1,1.5,2,1,-1,2,1.5,1,1]
];

// ---------- RENDERING ----------
const FONT = "'Liberation Sans', Arial, Helvetica, sans-serif";
const TITLE_FONT = "'Liberation Sans Narrow', 'DejaVu Sans Condensed', 'Liberation Sans', Arial, sans-serif";
const COLORS = {avg:'#000000', A:'#ff7f0e', B:'#8b1719', D:'#95c79b', G:'#1463c7'};
const SERIES_NAMES = {avg:'Average CUF by Date', A:'A', B:'B', D:'D', G:'G'};

function toTs(s){ const p=s.split('-').map(Number); return Date.UTC(p[0],p[1]-1,p[2]||1); }
const xTickValues = xTickLabels.map(s => toTs(s + '-01'));
const X_MIN = toTs('2019-12-08'), X_MAX = toTs('2021-08-18');
function fmtDate(v){ const d=new Date(v); return d.getUTCFullYear()+'-'+String(d.getUTCMonth()+1).padStart(2,'0'); }

function pointsFrom(list, dates, start){
  const out=[];
  (list||[]).forEach((v,i)=>{
    const d = dates[start+i];
    if (!d || v===null || v===undefined) return;
    (Array.isArray(v)?v:[v]).forEach(x=>out.push([toTs(d), x/1000]));
  });
  return out;
}

const legendCommon = {icon:'circle', itemWidth:10, itemHeight:10, selectedMode:false, orient:'horizontal'};
const option = {
  animation:false, backgroundColor:'#ffffff', textStyle:{fontFamily:FONT},
  grid:[], xAxis:[], yAxis:[], series:[], graphic:[],
  legend:[
    Object.assign({data:['Average CUF by Date'], left:1189, top:862,
     textStyle:{fontSize:13, color:'#222', fontFamily:FONT, padding:[0,0,0,12]}}, legendCommon),
    Object.assign({data:['A','D'], left:1189, top:886, itemGap:21,
     textStyle:{fontSize:21, color:'#111', fontFamily:FONT, padding:[0,0,0,12]}}, legendCommon),
    Object.assign({data:['B','G'], left:1189, top:912, itemGap:21,
     textStyle:{fontSize:21, color:'#111', fontFamily:FONT, padding:[0,0,0,12]}}, legendCommon)
  ]
};

codons.forEach((cd,i)=>{
  const c=i%8, r=Math.floor(i/8);
  const left=73+c*161.14, top=29+r*109.65, W=155, H=82;
  const bottom = (r===7) || (r===6 && c>=3);
  option.grid.push({left, top, width:W, height:H, show:true, borderColor:'#cccccc', borderWidth:1.5, backgroundColor:'#fff'});
  option.xAxis.push({type:'value', gridIndex:i, min:X_MIN, max:X_MAX,
    splitLine:{show:false}, axisLine:{show:false},
    axisTick:{show:bottom, customValues:xTickValues, length:4, lineStyle:{color:'#b5b5b5', width:1.2}},
    axisLabel:{show:bottom, customValues:xTickValues, rotate:90, fontSize:13, color:'#222', margin:5,
      fontFamily:FONT, formatter:(v)=>fmtDate(v), hideOverlap:false}});
  option.yAxis.push({type:'value', gridIndex:i, min:-0.0124, max:0.0124, splitNumber:5,
    axisLine:{show:false},
    axisTick:{show:c===0, length:4, lineStyle:{color:'#b5b5b5', width:1.2}},
    axisLabel:{show:c===0, fontSize:13, color:'#222', margin:6, fontFamily:FONT, showMinLabel:false, showMaxLabel:false,
      formatter:(v)=>{ const s=v.toFixed(3); return yTickLabels.indexOf(s)>=0 ? s : ''; }},
    splitLine:{show:true, lineStyle:{color:'#bdbdbd', width:1.5}}});
  const mk = (key, data, size)=>({type:'scatter', name:SERIES_NAMES[key], xAxisIndex:i, yAxisIndex:i,
    data, symbol:'circle', symbolSize:size, itemStyle:{color:COLORS[key], opacity:1}, silent:true, clip:true});
  option.series.push(mk('avg', pointsFrom(avgCUF[i], avgDates, 0), 6.5));
  option.series.push(mk('A', pointsFrom(variantA[i], variantDates, variantStart.A), 7));
  option.series.push(mk('B', pointsFrom(variantB[i], variantDates, variantStart.B), 7));
  option.series.push(mk('D', pointsFrom(variantD[i], variantDates, variantStart.D), 7));
  option.series.push(mk('G', pointsFrom(variantG[i], variantDates, variantStart.G), 7));
  option.graphic.push({type:'text', x:left+W/2, y:top-11, silent:true,
    style:{text:aminoAcids[i]+' | '+cd, fill:'#222', font:'11.5px '+TITLE_FONT, textAlign:'center', textVerticalAlign:'middle', align:'center', verticalAlign:'middle'}});
});

option.graphic.push({type:'text', x:18, y:455, rotation:Math.PI/2, silent:true,
  style:{text:'Normalized Average Frequency', fill:'#111', font:'bold 17px '+FONT, textAlign:'center', textVerticalAlign:'middle', align:'center', verticalAlign:'middle'}});
option.graphic.push({type:'text', x:612, y:937, silent:true,
  style:{text:'Date', fill:'#111', font:'bold 17px '+FONT, textAlign:'center', textVerticalAlign:'middle', align:'center', verticalAlign:'middle'}});
option.graphic.push({type:'rect', z:-1, silent:true, shape:{x:1180, y:836, width:185, height:120},
  style:{fill:'#fff', stroke:'#111', lineWidth:2}});
option.graphic.push({type:'text', x:1192, y:849, silent:true,
  style:{text:'Variant', fill:'#111', font:'21px '+FONT, textAlign:'left', textVerticalAlign:'middle', align:'left', verticalAlign:'middle'}});

const chart = echarts.init(document.getElementById('chart'), null, {renderer:'canvas'});
chart.setOption(option);
</script>
</body></html>
